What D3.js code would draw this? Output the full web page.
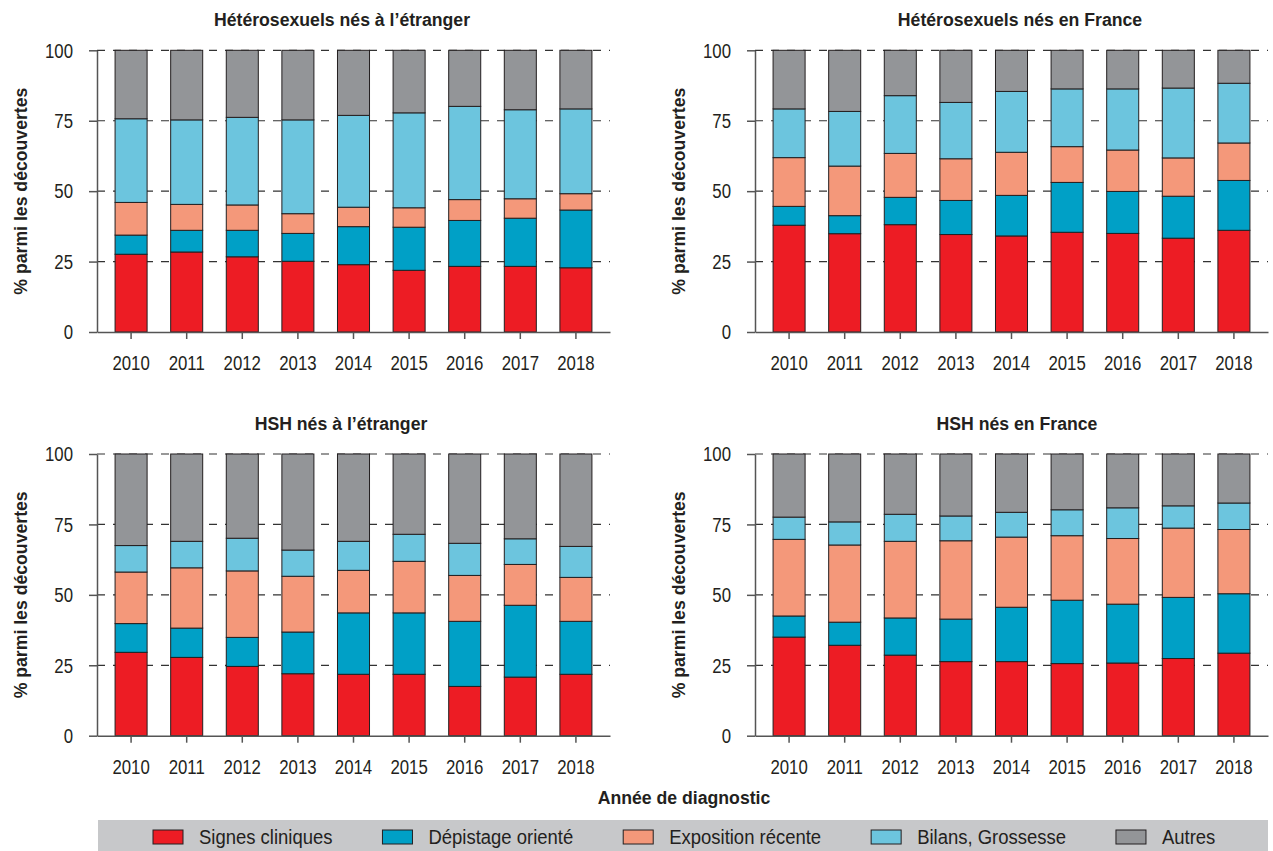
<!DOCTYPE html>
<html>
<head>
<meta charset="utf-8">
<script src="https://cdn.jsdelivr.net/npm/d3@7"></script>
<style>
  body { margin: 0; background: #fff; }
  svg { display: block; font-family: "Liberation Sans", Arial, sans-serif; }
</style>
</head>
<body>
<svg id="chart" width="1273" height="851"></svg>
<script>
// ---- data ----
const years = ['2010', '2011', '2012', '2013', '2014', '2015', '2016', '2017', '2018'];
const categories = ['Signes cliniques', 'Dépistage orienté', 'Exposition récente', 'Bilans, Grossesse', 'Autres'];
const yTicks = [0, 25, 50, 75, 100];
const panelTitles = ['Hétérosexuels nés à l\u2019étranger', 'Hétérosexuels nés en France',
                     'HSH nés à l\u2019étranger', 'HSH nés en France'];

// one row per category, one value per year (% of discoveries)
const heteroEtranger = [
    [27.6, 28.4, 26.7, 25.1, 23.9, 21.9, 23.3, 23.3, 22.8],
    [6.8, 7.7, 9.4, 9.9, 13.5, 15.3, 16.3, 17.1, 20.5],
    [11.6, 9.2, 9.0, 7.0, 6.9, 6.9, 7.4, 6.9, 5.8],
    [29.7, 30.0, 31.1, 33.3, 32.6, 33.7, 33.1, 31.6, 30.1],
    [24.3, 24.7, 23.8, 24.7, 23.1, 22.2, 19.9, 21.1, 20.8]
];
const heteroFrance = [
    [37.9, 34.9, 38.1, 34.6, 34.1, 35.4, 35.0, 33.3, 36.1],
    [6.7, 6.4, 9.7, 12.1, 14.4, 17.7, 14.9, 14.9, 17.7],
    [17.3, 17.6, 15.6, 14.8, 15.3, 12.7, 14.7, 13.6, 13.3],
    [17.3, 19.4, 20.5, 20.0, 21.6, 20.5, 21.7, 24.8, 21.2],
    [20.8, 21.7, 16.1, 18.5, 14.6, 13.7, 13.7, 13.4, 11.7]
];
const hshEtranger = [
    [29.6, 27.8, 24.6, 22.0, 21.8, 21.8, 17.5, 20.8, 21.8],
    [10.2, 10.4, 10.3, 14.8, 21.8, 21.8, 23.1, 25.5, 18.8],
    [18.3, 21.4, 23.6, 19.8, 15.1, 18.3, 16.3, 14.5, 15.6],
    [9.4, 9.4, 11.6, 9.3, 10.3, 9.6, 11.4, 9.1, 11.0],
    [32.5, 31.0, 29.9, 34.1, 31.0, 28.5, 31.7, 30.1, 32.8]
];
const hshFrance = [
    [35.0, 32.1, 28.6, 26.3, 26.3, 25.6, 25.8, 27.4, 29.3],
    [7.5, 8.2, 13.2, 15.1, 19.3, 22.5, 20.9, 21.7, 21.1],
    [27.2, 27.4, 27.2, 27.8, 24.9, 22.9, 23.3, 24.6, 22.8],
    [7.9, 8.2, 9.6, 8.8, 8.8, 9.2, 10.9, 7.9, 9.4],
    [22.4, 24.1, 21.4, 22.0, 20.7, 19.8, 19.1, 18.4, 17.4]
];

const colours = ['#ed1c24', '#00a0c6', '#f4987a', '#6cc5de', '#939598'];

// ---- layout ----
const svg = d3.select('#chart');
const colour = d3.scaleOrdinal().domain(categories).range(colours);
const font = 21;
// no condensed font installed, so squeeze text horizontally
const narrowDigits = 0.8, narrowText = 0.88, narrowBold = 0.93;

// squeeze a text element around its own anchor point
function condense(sel, k) {
    sel.each(function () {
        const t = d3.select(this);
        const x = +t.attr('x') || 0;
        const y = +t.attr('y') || 0;
        const prev = t.attr('transform') || '';
        t.attr('transform', `${prev} translate(${x},${y}) scale(${k},1) translate(${-x},${-y})`);
    });
}

const panels = [
    { title: panelTitles[0], data: heteroEtranger, x0: 97, x1: 610, y0: 332, y1: 50.3, tx: 342 },
    { title: panelTitles[1], data: heteroFrance, x0: 755, x1: 1268, y0: 332, y1: 50.3, tx: 1020 },
    { title: panelTitles[2], data: hshEtranger, x0: 97, x1: 610, y0: 735.7, y1: 454, tx: 341 },
    { title: panelTitles[3], data: hshFrance, x0: 755, x1: 1268, y0: 735.7, y1: 454, tx: 1017 }
];

const stack = d3.stack().keys(categories);

panels.forEach(p => {
    const rows = years.map((yr, i) => {
        const r = { year: yr };
        categories.forEach((c, k) => { r[c] = p.data[k][i]; });
        return r;
    });

    const x = d3.scaleBand().domain(years).range([p.x0, p.x1])
        .paddingInner(0.424).paddingOuter(0.325);
    const y = d3.scaleLinear().domain([0, 100]).range([p.y0, p.y1]);

    const g = svg.append('g');

    // dashed grid
    g.append('g').selectAll('line')
        .data(yTicks.filter(t => t > 0))
        .enter().append('line')
        .attr('x1', p.x0).attr('x2', p.x1)
        .attr('y1', d => y(d)).attr('y2', d => y(d))
        .attr('stroke', '#333')
        .attr('stroke-width', 1.2)
        .attr('stroke-dasharray', '8,8');

    // stacked bars
    g.append('g').selectAll('g')
        .data(stack(rows))
        .enter().append('g')
        .attr('fill', d => colour(d.key))
        .selectAll('rect')
        .data(d => d)
        .enter().append('rect')
        .attr('x', d => x(d.data.year))
        .attr('width', x.bandwidth())
        .attr('y', d => y(d[1]))
        .attr('height', d => y(d[0]) - y(d[1]))
        .attr('stroke', '#231f20')
        .attr('stroke-width', 1);

    // axes
    const yAxis = g.append('g')
        .attr('transform', `translate(${p.x0},0)`)
        .call(d3.axisLeft(y).tickValues(yTicks).tickSize(8).tickSizeOuter(0).tickPadding(16));
    const xAxis = g.append('g')
        .attr('transform', `translate(0,${p.y0})`)
        .call(d3.axisBottom(x).tickSize(7).tickSizeOuter(0).tickPadding(16));

    [yAxis, xAxis].forEach(a => {
        a.selectAll('path, line').attr('stroke', '#555').attr('stroke-width', 1.5);
        a.selectAll('text').attr('font-size', font).attr('fill', '#231f20').attr('font-family', null)
            .call(condense, narrowDigits);
    });

    // titles
    g.append('text')
        .attr('x', p.tx)
        .attr('y', p.y1 - 24)
        .attr('text-anchor', 'middle')
        .attr('font-size', 19)
        .attr('font-weight', 'bold')
        .attr('fill', '#231f20')
        .text(p.title)
        .call(condense, narrowBold);

    g.append('text')
        .attr('transform', `translate(${p.x0 - 70},${(p.y0 + p.y1) / 2}) rotate(-90)`)
        .attr('text-anchor', 'middle')
        .attr('font-size', 19)
        .attr('font-weight', 'bold')
        .attr('fill', '#231f20')
        .text('% parmi les découvertes')
        .call(condense, narrowBold);
});

svg.append('text')
    .attr('x', 684)
    .attr('y', 804)
    .attr('text-anchor', 'middle')
    .attr('font-size', 19)
    .attr('font-weight', 'bold')
    .attr('fill', '#231f20')
    .text('Année de diagnostic')
    .call(condense, narrowBold);

// ---- legend ----
const legend = svg.append('g');
legend.append('rect')
    .attr('x', 98).attr('y', 820)
    .attr('width', 1268 - 98).attr('height', 40)
    .attr('fill', '#c7c8ca');

let lx = 153;
categories.forEach(c => {
    const item = legend.append('g');
    item.append('rect')
        .attr('x', lx).attr('y', 830)
        .attr('width', 30).attr('height', 14)
        .attr('fill', colour(c))
        .attr('stroke', '#231f20')
        .attr('stroke-width', 1);
    const t = item.append('text')
        .attr('x', lx + 46).attr('y', 844)
        .attr('font-size', font)
        .attr('fill', '#231f20')
        .text(c)
        .call(condense, narrowText);
    lx += 46 + t.node().getComputedTextLength() * narrowText + 50;
});
</script>
</body>
</html>
